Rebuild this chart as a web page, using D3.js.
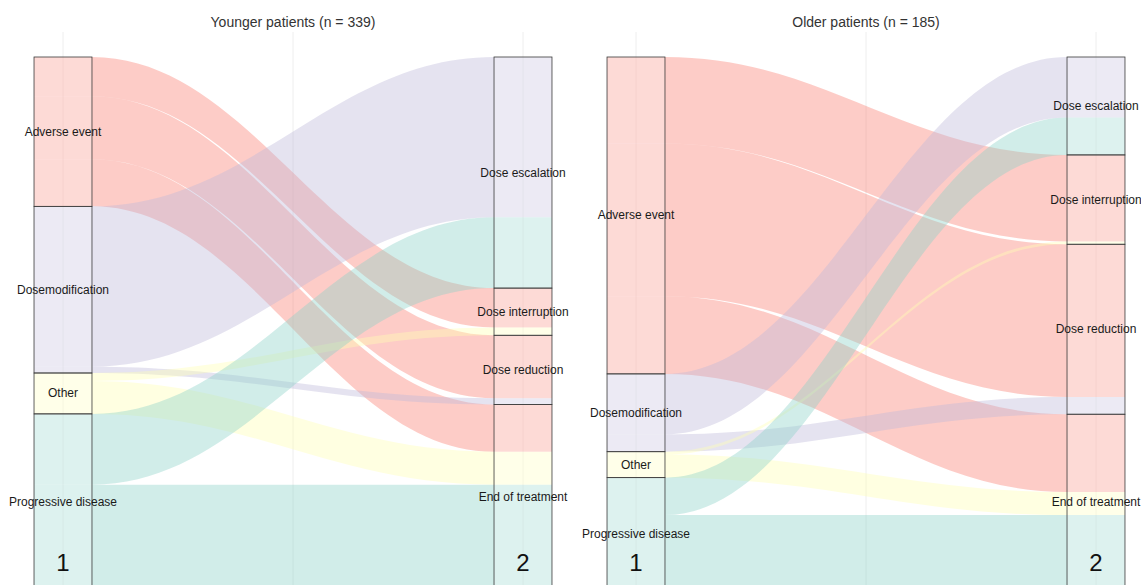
<!DOCTYPE html>
<html>
<head>
<meta charset="utf-8">
<script src="https://cdn.jsdelivr.net/npm/d3@7"></script>
<style>
body { margin: 0; background: #fff; }
text { font-family: "Liberation Sans", Arial, sans-serif; }
</style>
</head>
<body>
<div id="chart"></div>
<script>
// categories
const sources = ["Adverse event", "Dosemodification", "Other", "Progressive disease"];
const targets = ["Dose escalation", "Dose interruption", "Dose reduction", "End of treatment"];
const panelTitles = ["Younger patients (n = 339)", "Older patients (n = 185)"];
const axisLabels = ["1", "2"];

// patients per (source row, target column)
const youngerFlows = [
    [0, 25, 40, 30],
    [102, 0, 4, 0],
    [0, 5, 0, 21],
    [45, 0, 0, 67]
];
const olderFlows = [
    [0, 30, 53, 27],
    [21, 0, 6, 0],
    [0, 1, 0, 8],
    [13, 0, 0, 26]
];

// Set3 colours by source stratum
const palette = ["#FB8072", "#BEBADA", "#FFFFB3", "#8DD3C7"];

const width = 1141, height = 585;
const stratumWidth = 0.126; // in x units
const curve = 0.4;

const svg = d3.select("#chart")
    .append("svg")
    .attr("width", width)
    .attr("height", height);

function drawPanel(flows, title, offsetX) {
    const g = svg.append("g");
    const total = d3.sum(flows.flat());

    const x = d3.scaleLinear().domain([1, 2]).range([offsetX + 63, offsetX + 523]);
    const y = d3.scaleLinear().domain([0, total]).range([57, 590]);
    const half = (x(2) - x(1)) * stratumWidth / 2;

    // faint grid
    [1, 1.5, 2].forEach(v => {
        g.append("line")
            .attr("x1", x(v)).attr("x2", x(v))
            .attr("y1", 32).attr("y2", height)
            .attr("stroke", "#eeeeee")
            .attr("stroke-width", 1);
    });

    const srcTotals = flows.map(r => d3.sum(r));
    const tgtTotals = targets.map((t, j) => d3.sum(flows, r => r[j]));
    const srcStart = d3.cumsum([0].concat(srcTotals.slice(0, -1)));
    const tgtStart = d3.cumsum([0].concat(tgtTotals.slice(0, -1)));

    // alluvia, running through both strata
    const x0 = x(1) - half, xl = x(1) + half, xr = x(2) - half, x3 = x(2) + half;
    const c1 = xl + (xr - xl) * curve, c2 = xr - (xr - xl) * curve;
    flows.forEach((row, i) => {
        row.forEach((n, j) => {
            if (n === 0) return;
            const s0 = srcStart[i] + d3.sum(row.slice(0, j));
            const t0 = tgtStart[j] + d3.sum(flows.slice(0, i), r => r[j]);
            const ys0 = y(s0), ys1 = y(s0 + n), yt0 = y(t0), yt1 = y(t0 + n);
            const p = d3.path();
            p.moveTo(x0, ys0);
            p.lineTo(xl, ys0);
            p.bezierCurveTo(c1, ys0, c2, yt0, xr, yt0);
            p.lineTo(x3, yt0);
            p.lineTo(x3, yt1);
            p.lineTo(xr, yt1);
            p.bezierCurveTo(c2, yt1, c1, ys1, xl, ys1);
            p.lineTo(x0, ys1);
            p.closePath();
            g.append("path")
                .attr("d", p.toString())
                .attr("fill", palette[i])
                .attr("fill-opacity", 0.4);
        });
    });

    // strata: translucent white boxes over the alluvia
    function stratum(cx, cats, totals, starts) {
        cats.forEach((name, k) => {
            g.append("rect")
                .attr("x", cx - half)
                .attr("y", y(starts[k]))
                .attr("width", half * 2)
                .attr("height", y(starts[k] + totals[k]) - y(starts[k]))
                .attr("fill", "#fff")
                .attr("fill-opacity", 0.27)
                .attr("stroke", "#3a3a3a")
                .attr("stroke-width", 0.8);
        });
        cats.forEach((name, k) => {
            g.append("text")
                .attr("x", cx)
                .attr("y", y(starts[k] + totals[k] / 2))
                .attr("text-anchor", "middle")
                .attr("dominant-baseline", "central")
                .attr("font-size", 12)
                .attr("fill", "#1a1a1a")
                .text(name);
        });
    }
    stratum(x(1), sources, srcTotals, srcStart);
    stratum(x(2), targets, tgtTotals, tgtStart);

    // axis numbers
    axisLabels.forEach((lab, k) => {
        g.append("text")
            .attr("x", x(k + 1))
            .attr("y", 562)
            .attr("text-anchor", "middle")
            .attr("dominant-baseline", "central")
            .attr("font-size", 24)
            .attr("fill", "#111")
            .text(lab);
    });

    g.append("text")
        .attr("x", (x(1) + x(2)) / 2)
        .attr("y", 22)
        .attr("text-anchor", "middle")
        .attr("dominant-baseline", "central")
        .attr("font-size", 14)
        .attr("fill", "#333")
        .text(title);
}

drawPanel(youngerFlows, panelTitles[0], 0);
drawPanel(olderFlows, panelTitles[1], 573);
</script>
</body>
</html>
